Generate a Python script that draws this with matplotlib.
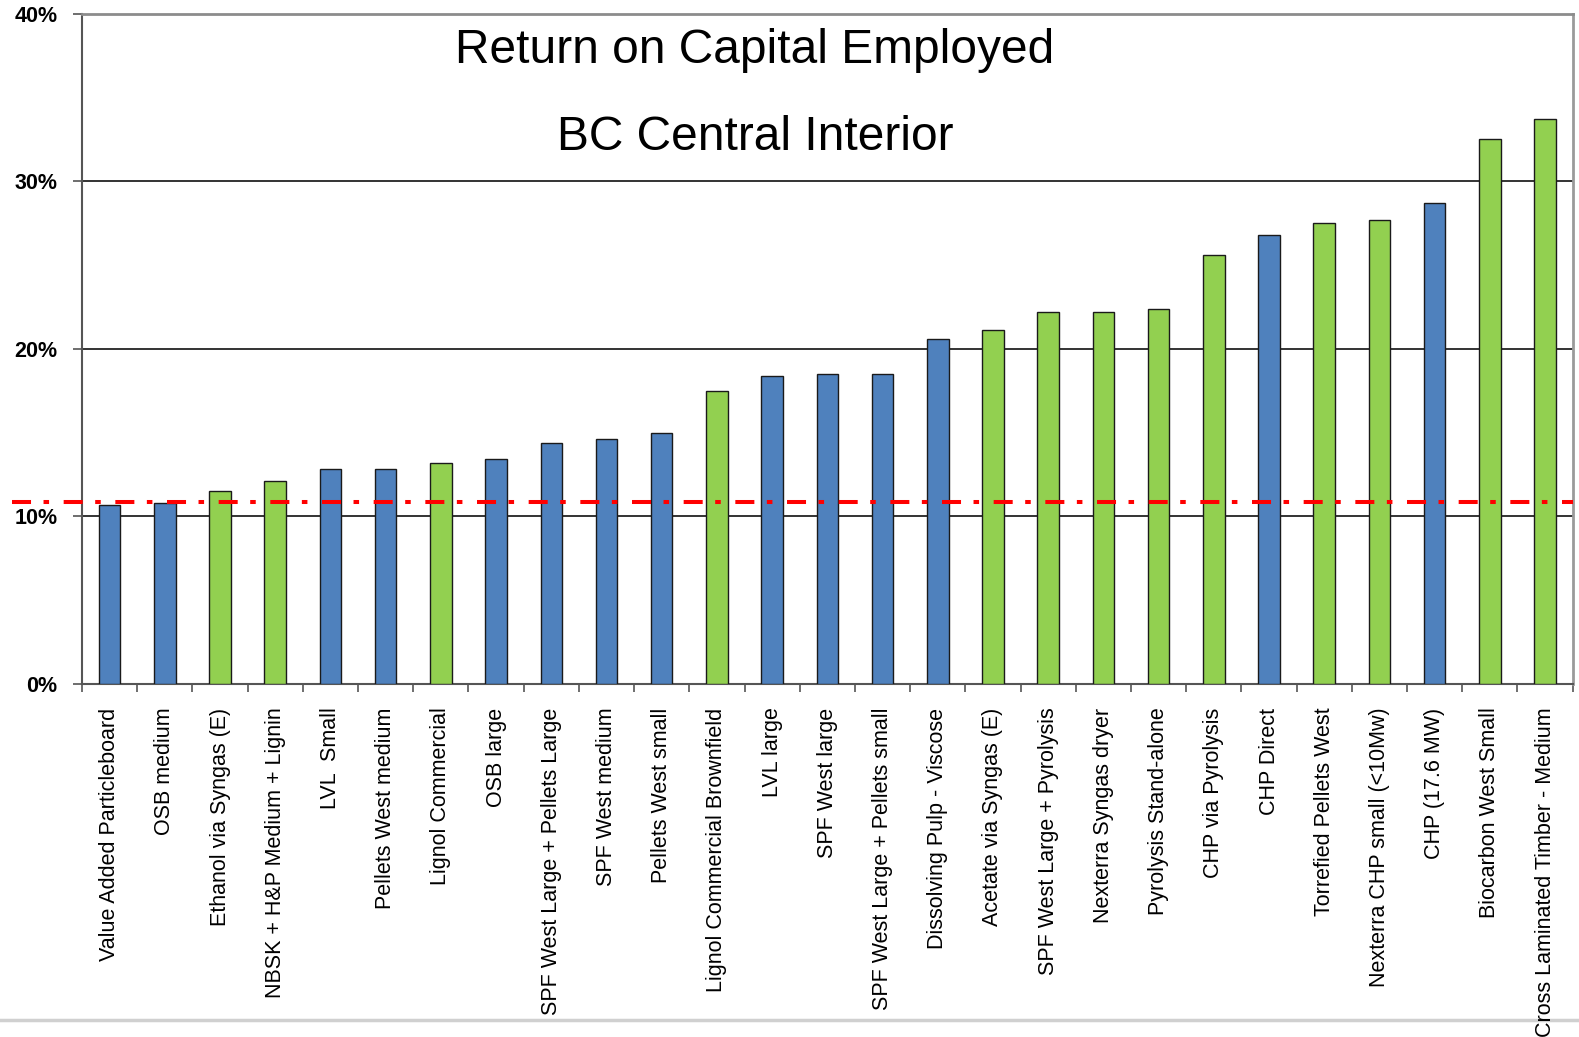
import matplotlib
matplotlib.use("Agg")
import matplotlib.pyplot as plt
from matplotlib import font_manager as fm
from matplotlib.lines import Line2D
from matplotlib.ticker import FixedLocator, FuncFormatter

categories = [
    "Value Added Particleboard", "OSB medium", "Ethanol via Syngas (E)",
    "NBSK + H&P Medium + Lignin", "LVL  Small", "Pellets West medium",
    "Lignol Commercial", "OSB large", "SPF West Large + Pellets Large",
    "SPF West medium", "Pellets West small", "Lignol Commercial Brownfield",
    "LVL large", "SPF West large", "SPF West Large + Pellets small",
    "Dissolving Pulp - Viscose", "Acetate via Syngas (E)",
    "SPF West Large + Pyrolysis", "Nexterra Syngas dryer",
    "Pyrolysis Stand-alone", "CHP via Pyrolysis", "CHP Direct",
    "Torrefied Pellets West", "Nexterra CHP small (<10Mw)", "CHP (17.6 MW)",
    "Biocarbon West Small", "Cross Laminated Timber - Medium",
]
roce_pct = [10.7, 10.8, 11.5, 12.1, 12.8, 12.8, 13.2, 13.4, 14.4, 14.6, 15.0,
            17.5, 18.4, 18.5, 18.5, 20.6, 21.1, 22.2, 22.2, 22.4, 25.6, 26.8,
            27.5, 27.7, 28.7, 32.5, 33.7]
group = ["b", "b", "g", "g", "b", "b", "g", "b", "b", "b", "b", "g", "b", "b",
         "b", "b", "g", "g", "g", "g", "g", "b", "g", "g", "b", "g", "g"]
hurdle_pct = 10.85
yticks = [0, 10, 20, 30, 40]

group_colors = {"b": "#4F81BD", "g": "#92D050"}

names = {f.name for f in fm.fontManager.ttflist}
narrow = "Liberation Sans Narrow" in names
label_family = "Liberation Sans Narrow" if narrow else "Liberation Sans"
label_size = 18.5 if narrow else 15.5

plt.rcParams["font.family"] = ["Liberation Sans", "DejaVu Sans"]
plt.rcParams["lines.scale_dashes"] = False

fig = plt.figure(figsize=(15.79, 10.37), dpi=100)
ax = fig.add_axes([82 / 1579, 1 - 684 / 1037, (1572.7 - 82) / 1579, (684 - 13.5) / 1037])

x = list(range(len(categories)))
ax.bar(x, roce_pct, width=0.39, color=[group_colors[g] for g in group],
       edgecolor="#1a1a1a", linewidth=1.0, zorder=3)

ax.set_xlim(-0.5, len(categories) - 0.5)
ax.set_ylim(0, 40)

# grid
for v in yticks[1:-1]:
    ax.axhline(v, color="#111111", linewidth=1.2, zorder=1)

# hurdle line
ax.axhline(hurdle_pct, xmin=(12 - 82) / (1572.7 - 82), xmax=1.0,
           color="#FF0000", linewidth=2.9, clip_on=False, zorder=5,
           linestyle=(0, (13.7, 9.0, 4.0, 10.5)), dash_capstyle="butt")

# spines
ax.spines["left"].set_color("#555555")
ax.spines["left"].set_linewidth(1.5)
ax.spines["bottom"].set_color("#555555")
ax.spines["bottom"].set_linewidth(1.5)
ax.spines["top"].set_color("#8c8c8c")
ax.spines["top"].set_linewidth(2.0)
ax.spines["right"].set_color("#9a9a9a")
ax.spines["right"].set_linewidth(2.0)

# y ticks
ax.set_yticks(yticks)
ax.yaxis.set_major_formatter(FuncFormatter(lambda v, p: f"{int(v)}%"))
ax.tick_params(axis="y", direction="out", length=6.5, width=1.2,
               color="#555555", pad=11)
for t in ax.get_yticklabels():
    t.set_fontweight("bold")
    t.set_fontsize(15.5)
    t.set_fontfamily(["Liberation Sans", "DejaVu Sans"])

# x ticks
ax.set_xticks(x)
ax.set_xticklabels(categories, rotation=90, ha="center", va="top",
                   fontsize=label_size, family=[label_family, "DejaVu Sans"])
ax.tick_params(axis="x", which="major", length=0, pad=17)
ax.xaxis.set_minor_locator(FixedLocator([i - 0.5 for i in range(len(categories) + 1)]))
ax.tick_params(axis="x", which="minor", direction="out", length=6, width=1.2,
               color="#555555")

# titles
fig.text(755 / 1579, 1 - 50.5 / 1037, "Return on Capital Employed",
         ha="center", va="center", fontsize=34.5)
fig.text(755 / 1579, 1 - 137 / 1037, "BC Central Interior",
         ha="center", va="center", fontsize=34.5)

# slide border line at bottom (behind the axes text)
fig.add_artist(Line2D([0, 1], [1 - 1020 / 1037] * 2, transform=fig.transFigure,
                      color="#d0d0d0", linewidth=2.5, zorder=-1))

fig.savefig("out.png", dpi=100)
